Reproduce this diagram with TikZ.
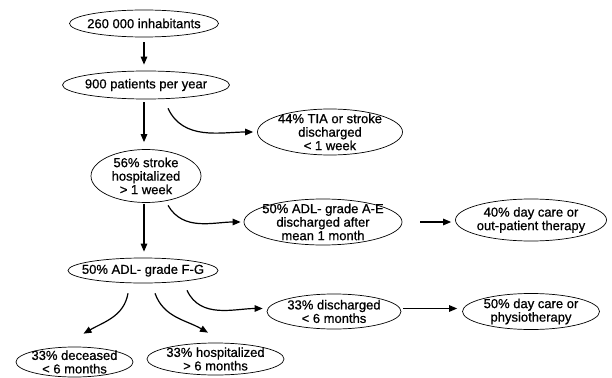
\documentclass[tikz,border=0pt]{standalone}
\usepackage{fontspec}
\setmainfont[FakeBold=0.8]{Liberation Sans}
\usetikzlibrary{positioning, arrows.meta, shapes.geometric}

\begin{document}
\begin{tikzpicture}[
        x=1pt, y=1pt,
        oval/.style={ellipse, draw=black, line width=0.7pt, inner sep=-30pt, align=center, font=\fontsize{13}{13.5}\selectfont},
        arrow/.style={-{Triangle[length=8pt, width=6.5pt]}, line width=1.2pt}
    ]
    \useasboundingbox (0,-377) rectangle (612,0);

    \node[oval, minimum width=149pt, minimum height=27pt] (pop) at (144,-23.5) {260 000 inhabitants};
    \node[oval, minimum width=167pt, minimum height=28pt] (patients) at (146,-85) {900 patients per year};
    \node[oval, minimum width=110pt, minimum height=53pt] (hosp) at (146,-176) {56\% stroke\\hospitalized\\> 1 week};
    \node[oval, minimum width=145pt, minimum height=46pt] (tia) at (330,-132) {44\% TIA or stroke\\discharged\\< 1 week};
    \node[oval, minimum width=158pt, minimum height=46pt] (adlae) at (323,-222) {50\% ADL- grade A-E\\discharged after\\mean 1 month};
    \node[oval, minimum width=151pt, minimum height=42pt] (daycare) at (531,-220) {40\% day care or\\out-patient therapy};
    \node[oval, minimum width=150pt, minimum height=25pt] (adlfg) at (143,-270.5) {50\% ADL- grade F-G};
    \node[oval, minimum width=117pt, minimum height=30pt] (deceased) at (74.5,-362) {33\% deceased\\< 6 months};
    \node[oval, minimum width=137pt, minimum height=32pt] (longstay) at (215.5,-359) {33\% hospitalized\\> 6 months};
    \node[oval, minimum width=134pt, minimum height=35pt] (discharged) at (334,-311.5) {33\% discharged\\< 6 months};
    \node[oval, minimum width=137pt, minimum height=36pt] (physio) at (531,-311.5) {50\% day care or\\physiotherapy};

    \draw[arrow, shorten <=5pt, shorten >=6pt] (pop.south) -- (pop.south |- patients.north);
    \draw[arrow, shorten <=3pt, shorten >=7pt] (pop.south |- patients.south) -- (pop.south |- hosp.north);
    \draw[arrow, shorten <=1pt, shorten >=6pt] (pop.south |- hosp.south) -- (pop.south |- adlfg.north);

    \draw[arrow, shorten >=4pt] ([xshift=22pt, yshift=-9pt]patients.south) to[out=-65, in=180] (tia.west);
    \draw[arrow, shorten >=3pt] ([xshift=22pt, yshift=-2.5pt]hosp.south) to[out=-60, in=180] (adlae.west);
    \draw[arrow, shorten <=18pt, shorten >=4pt] (adlae.east) -- (adlae.east -| daycare.west);

    \draw[arrow, shorten >=4pt] ([xshift=44pt, yshift=-7pt]adlfg.south) to[out=-65, in=180] ([yshift=3pt]discharged.west);
    \draw[arrow, shorten <=2pt, shorten >=5pt] ([yshift=3pt]discharged.east) -- ([yshift=3pt]physio.west);
    \draw[arrow] ([xshift=-15pt, yshift=-10pt]adlfg.south) to[out=-100, in=30] ([xshift=9pt, yshift=13pt]deceased.north);
    \draw[arrow] ([xshift=12pt, yshift=-10pt]adlfg.south) to[out=-70, in=150] ([xshift=-7.5pt, yshift=10pt]longstay.north);
\end{tikzpicture}
\end{document}
